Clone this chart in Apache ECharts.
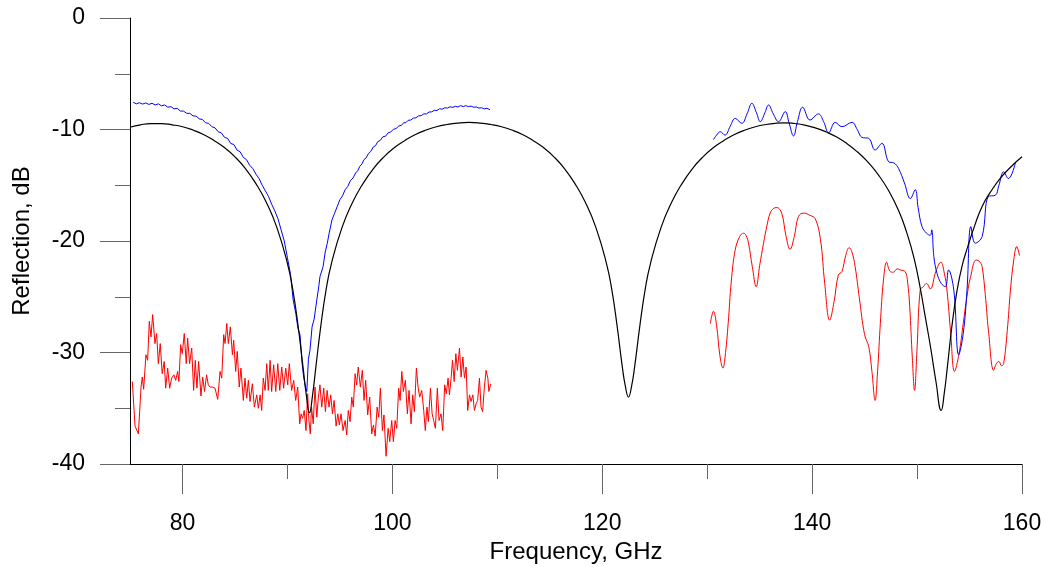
<!DOCTYPE html>
<html>
<head>
<meta charset="utf-8">
<script src="https://cdn.jsdelivr.net/npm/echarts@6/dist/echarts.min.js"></script>
<style>
html,body{margin:0;padding:0;background:#fff;}
#chart{width:1047px;height:567px;}
</style>
</head>
<body>
<div id="chart"></div>
<script>
// Tick values
const xMajorTicks = [80, 100, 120, 140, 160];
const xMinorTicks = [90, 110, 130, 150];

// Calculated reflection (black)
const calcCurve = [[75,-9.8],[76,-9.58],[77,-9.47],[78,-9.47],[79,-9.58],[80,-9.75],[81,-10.05],[82,-10.45],[83,-10.98],[84,-11.62],[85,-12.45],[86,-13.5],[87,-14.85],[88,-16.55],[89,-18.8],[90,-22.0],[90.5,-24.3],[91,-27.5],[91.5,-31.4],[91.8,-33.8],[92.1,-35.4],[92.4,-33.8],[92.7,-31.4],[93.2,-27.5],[93.7,-24.3],[94.2,-22.0],[95.2,-18.8],[96.2,-16.55],[97.2,-14.85],[98.2,-13.5],[99.2,-12.45],[100.2,-11.62],[101.2,-10.98],[102.2,-10.45],[103.2,-10.05],[104.2,-9.75],[105.2,-9.55],[106.2,-9.42],[107.3,-9.36],[108.4,-9.42],[109.4,-9.55],[110.4,-9.75],[111.4,-10.05],[112.4,-10.45],[113.4,-10.98],[114.4,-11.62],[115.4,-12.45],[116.4,-13.5],[117.4,-14.85],[118.4,-16.55],[119.4,-18.8],[120.4,-22.0],[120.9,-24.3],[121.4,-27.5],[121.9,-31.2],[122.2,-33.0],[122.5,-34.0],[122.8,-33.0],[123.1,-31.2],[123.6,-27.5],[124.1,-24.3],[124.6,-22.0],[125.6,-18.8],[126.6,-16.55],[127.6,-14.85],[128.6,-13.5],[129.6,-12.45],[130.6,-11.62],[131.6,-10.98],[132.6,-10.45],[133.6,-10.05],[134.6,-9.75],[135.6,-9.55],[136.5,-9.44],[137.4,-9.4],[138.3,-9.46],[139.3,-9.6],[140.3,-9.85],[141.3,-10.2],[142.3,-10.65],[143.3,-11.25],[144.3,-12.0],[145.3,-12.9],[146.3,-14.05],[147.3,-15.5],[148.3,-17.4],[149.0,-19.2],[149.7,-21.5],[150.3,-24.2],[150.8,-26.9],[151.3,-29.6],[151.8,-32.6],[152.3,-35.2],[152.6,-33.6],[152.9,-31.2],[153.3,-27.8],[153.8,-24.5],[154.3,-22.2],[154.8,-20.6],[155.5,-18.6],[156.2,-16.9],[157.0,-15.6],[158.0,-14.3],[159.0,-13.3],[160.0,-12.45]];

// Measured, band 1 (blue)
const measBand1 = [[75.3,-7.55],[75.6,-7.7],[75.9,-7.6],[76.2,-7.72],[76.5,-7.62],[76.8,-7.75],[77.1,-7.65],[77.4,-7.8],[77.7,-7.7],[78.0,-7.88],[78.3,-7.8],[78.6,-8.0],[78.9,-7.95],[79.2,-8.15],[79.5,-8.1],[79.8,-8.35],[80.1,-8.35],[80.4,-8.55],[80.7,-8.55],[81.0,-8.78],[81.3,-8.8],[81.6,-9.05],[81.9,-9.1],[82.2,-9.4],[82.5,-9.45],[82.8,-9.75],[83.1,-9.85],[83.4,-10.2],[83.7,-10.3],[84.0,-10.7],[84.3,-10.8],[84.6,-11.25],[84.9,-11.35],[85.2,-11.85],[85.5,-12.0],[85.8,-12.5],[86.1,-12.7],[86.4,-13.2],[86.7,-13.5],[87.0,-14.0],[87.3,-14.4],[87.6,-15.0],[87.9,-15.5],[88.2,-16.0],[88.5,-16.7],[88.8,-17.3],[89.1,-18.0],[89.4,-19.0],[89.7,-20.0],[90.0,-21.5],[90.3,-23.0],[90.55,-25.3],[90.8,-26.5],[91.0,-27.8],[91.2,-28.4],[91.4,-31.0],[91.55,-32.2],[91.7,-33.0],[91.85,-33.5],[92.0,-30.6],[92.15,-29.8],[92.35,-27.7],[92.55,-27.0],[92.8,-25.3],[93.0,-24.0],[93.1,-23.2],[93.4,-22.3],[93.6,-21.0],[93.8,-20.2],[94.0,-19.2],[94.25,-18.1],[94.5,-17.5],[94.75,-16.9],[95.0,-16.3],[95.25,-15.95],[95.5,-15.4],[95.75,-15.1],[96.0,-14.6],[96.25,-14.35],[96.5,-13.9],[96.7,-13.7],[96.9,-13.3],[97.1,-13.1],[97.3,-12.7],[97.5,-12.55],[97.7,-12.2],[97.95,-11.95],[98.2,-11.55],[98.4,-11.45],[98.6,-11.1],[98.85,-10.98],[99.1,-10.65],[99.35,-10.6],[99.6,-10.3],[99.85,-10.22],[100.1,-9.98],[100.35,-9.92],[100.6,-9.7],[100.85,-9.62],[101.1,-9.4],[101.3,-9.38],[101.5,-9.18],[101.75,-9.15],[102.0,-8.98],[102.25,-8.95],[102.5,-8.78],[102.75,-8.75],[103.0,-8.6],[103.25,-8.6],[103.5,-8.43],[103.75,-8.42],[104.0,-8.28],[104.25,-8.3],[104.5,-8.14],[104.75,-8.18],[105.0,-8.05],[105.25,-8.08],[105.5,-7.96],[105.75,-8.02],[106.0,-7.92],[106.25,-7.98],[106.5,-7.86],[106.75,-7.95],[107.0,-7.86],[107.25,-7.95],[107.5,-7.9],[107.75,-8.0],[108.0,-7.98],[108.25,-8.08],[108.5,-8.05],[108.75,-8.15],[109.0,-8.1],[109.3,-8.22]];

// Measured, band 2 (blue)
const measBand2 = [[130.6,-10.9],[130.9,-10.5],[131.24,-10.2],[131.7,-10.5],[132.2,-9.7],[132.67,-9.0],[133.3,-9.45],[133.8,-8.6],[134.26,-7.65],[134.7,-8.5],[135.06,-9.3],[135.5,-8.5],[135.85,-7.8],[136.3,-8.6],[136.8,-9.3],[137.44,-8.4],[137.8,-9.4],[138.23,-10.58],[138.6,-9.3],[139.1,-8.0],[139.8,-9.15],[140.6,-8.6],[141.1,-9.3],[141.57,-10.3],[142.2,-9.36],[142.84,-9.75],[143.8,-9.36],[144.3,-10.0],[144.74,-10.7],[145.4,-10.8],[146.0,-11.84],[146.65,-11.24],[147.3,-12.9],[147.8,-13.0],[148.24,-13.5],[148.8,-14.8],[149.36,-16.2],[149.83,-15.4],[150.1,-17.0],[150.47,-18.7],[150.9,-19.3],[151.26,-19.5],[151.4,-19.0],[151.6,-21.4],[151.9,-22.9],[152.3,-23.8],[152.7,-24.1],[153.0,-22.6],[153.5,-24.4],[153.97,-30.2],[154.4,-28.3],[154.76,-24.4],[155.13,-18.7],[155.55,-20.2],[156.2,-19.6],[156.8,-16.0],[157.46,-15.9],[157.8,-15.0],[158.25,-13.8],[158.7,-14.4],[159.37,-13.0]];

// Red, band 1
const redBand1 = [[75.22,-32.6],[75.48,-36.6],[75.64,-36.5],[75.8,-37.3],[76.05,-33.1],[76.17,-32.2],[76.3,-33.3],[76.52,-30.2],[76.68,-30.7],[76.84,-27.2],[77.0,-28.6],[77.16,-26.6],[77.38,-29.2],[77.54,-28.3],[77.7,-31.0],[77.88,-29.2],[78.07,-31.9],[78.26,-30.8],[78.4,-33.2],[78.59,-31.4],[78.78,-33.2],[78.97,-32.3],[79.18,-32.0],[79.35,-32.5],[79.54,-31.7],[79.66,-32.6],[79.83,-29.3],[79.98,-30.1],[80.17,-28.3],[80.36,-31.0],[80.49,-28.7],[80.68,-31.0],[80.88,-29.6],[81.06,-33.4],[81.22,-30.7],[81.38,-33.2],[81.54,-30.8],[81.76,-33.9],[81.93,-32.2],[82.1,-33.5],[82.3,-32.0],[82.46,-32.9],[82.62,-33.1],[82.84,-33.1],[83.1,-33.2],[83.36,-34.2],[83.58,-31.7],[83.74,-32.3],[83.93,-28.4],[84.06,-29.2],[84.22,-27.4],[84.37,-29.2],[84.56,-27.7],[84.76,-30.2],[84.88,-28.9],[85.07,-31.7],[85.22,-29.9],[85.41,-33.1],[85.57,-31.4],[85.8,-34.3],[85.96,-32.3],[86.12,-34.1],[86.28,-32.5],[86.44,-34.4],[86.66,-32.8],[86.85,-34.9],[87.08,-33.8],[87.23,-35.0],[87.4,-33.8],[87.55,-35.2],[87.7,-32.3],[87.87,-33.4],[88.03,-31.0],[88.18,-33.4],[88.35,-30.7],[88.5,-33.5],[88.69,-31.1],[88.89,-33.5],[89.08,-31.0],[89.27,-33.4],[89.46,-31.3],[89.64,-33.2],[89.84,-31.4],[90.03,-32.9],[90.18,-31.0],[90.4,-33.4],[90.6,-32.5],[90.79,-34.3],[90.98,-33.1],[91.17,-36.4],[91.3,-35.5],[91.45,-35.9],[91.6,-35.2],[91.77,-37.0],[91.93,-33.7],[92.05,-36.1],[92.18,-37.3],[92.3,-34.9],[92.46,-36.4],[92.63,-33.1],[92.8,-35.8],[92.95,-34.0],[93.1,-32.9],[93.27,-34.9],[93.46,-33.2],[93.62,-35.3],[93.78,-33.4],[93.97,-34.9],[94.13,-33.8],[94.29,-35.5],[94.45,-34.3],[94.64,-36.6],[94.8,-35.5],[94.95,-36.5],[95.11,-35.5],[95.3,-37.0],[95.5,-36.1],[95.65,-37.4],[95.8,-35.2],[95.97,-36.2],[96.13,-34.0],[96.28,-34.9],[96.45,-31.9],[96.6,-32.9],[96.75,-31.3],[96.95,-33.1],[97.14,-31.6],[97.3,-34.3],[97.46,-32.5],[97.65,-35.6],[97.84,-34.0],[98.03,-37.3],[98.2,-36.5],[98.36,-37.5],[98.55,-34.9],[98.7,-35.8],[98.86,-33.2],[99.05,-37.0],[99.2,-35.6],[99.4,-39.3],[99.6,-36.8],[99.75,-38.0],[99.94,-36.1],[100.1,-38.0],[100.26,-36.1],[100.42,-36.8],[100.6,-33.2],[100.74,-34.3],[100.9,-31.7],[101.05,-33.5],[101.24,-32.5],[101.43,-35.5],[101.59,-33.4],[101.78,-36.4],[101.94,-33.8],[102.1,-35.3],[102.29,-31.4],[102.45,-33.1],[102.6,-34.0],[102.8,-33.4],[102.99,-35.2],[103.14,-37.0],[103.3,-34.9],[103.43,-36.2],[103.63,-33.2],[103.79,-35.5],[103.94,-36.1],[104.1,-36.8],[104.29,-33.2],[104.45,-36.1],[104.64,-35.5],[104.8,-37.0],[104.99,-32.9],[105.14,-33.7],[105.31,-32.3],[105.44,-33.8],[105.6,-32.3],[105.73,-30.7],[105.89,-32.6],[106.05,-30.1],[106.2,-31.6],[106.4,-29.6],[106.55,-32.2],[106.72,-30.4],[106.87,-32.3],[107.03,-31.3],[107.18,-35.2],[107.35,-33.8],[107.5,-34.4],[107.67,-33.8],[107.82,-35.2],[107.98,-34.6],[108.13,-34.3],[108.3,-32.3],[108.45,-34.9],[108.6,-35.3],[108.77,-33.1],[108.93,-31.6],[109.1,-32.3],[109.2,-33.5],[109.38,-32.8]];

// Red, band 2
const redBand2 = [[130.3,-27.4],[130.6,-26.3],[130.9,-27.6],[131.2,-30.2],[131.5,-31.4],[131.75,-30.0],[132.0,-27.4],[132.3,-23.6],[132.67,-20.8],[133.1,-19.6],[133.46,-19.3],[133.7,-19.5],[133.94,-20.2],[134.3,-22.3],[134.67,-24.1],[135.0,-22.2],[135.37,-20.2],[135.7,-18.6],[136.0,-17.5],[136.3,-17.1],[136.64,-17.0],[137.1,-17.5],[137.5,-19.5],[137.9,-20.75],[138.3,-19.6],[138.7,-17.8],[139.18,-17.5],[139.8,-17.7],[140.3,-18.0],[140.8,-19.9],[141.2,-23.8],[141.67,-27.1],[142.1,-25.4],[142.5,-23.05],[142.84,-22.75],[143.2,-21.3],[143.53,-20.6],[143.8,-21.0],[144.1,-22.3],[144.5,-25.1],[145.0,-28.4],[145.4,-29.5],[145.7,-31.7],[146.0,-34.3],[146.25,-31.5],[146.5,-27.4],[146.8,-23.5],[147.1,-21.9],[147.4,-22.7],[147.75,-22.8],[148.1,-22.5],[148.4,-22.6],[148.87,-22.75],[149.1,-23.7],[149.3,-25.9],[149.55,-30.5],[149.76,-33.4],[150.0,-29.6],[150.3,-24.4],[150.6,-24.1],[150.9,-23.8],[151.26,-24.3],[151.8,-22.7],[152.27,-21.9],[152.6,-22.9],[152.85,-24.4],[153.2,-28.2],[153.57,-31.7],[154.0,-30.1],[154.4,-27.4],[154.75,-25.0],[155.1,-23.2],[155.64,-21.7],[156.0,-21.9],[156.2,-22.3],[156.5,-24.8],[156.8,-28.0],[157.3,-31.6],[157.55,-31.0],[157.8,-30.8],[158.05,-31.2],[158.25,-31.0],[158.6,-28.0],[158.9,-24.4],[159.2,-21.8],[159.5,-20.5],[159.76,-21.3]];

const chart = echarts.init(document.getElementById('chart'), null, {renderer: 'canvas'});
const FONT = 'Liberation Sans, Arial, sans-serif';

function lineSeries(data, color, width, smooth) {
  return {
    type: 'line', data: data, showSymbol: false, symbol: 'none',
    smooth: smooth,
    lineStyle: {color: color, width: width}, itemStyle: {color: color},
    animation: false, silent: true
  };
}

chart.setOption({
  animation: false,
  backgroundColor: '#fff',
  grid: {left: 130, right: 25, top: 18, bottom: 103, containLabel: false, outerBoundsMode: 'none'},
  xAxis: [{
    type: 'value', min: 75, max: 160, position: 'bottom',
    axisLine: {show: true, onZero: false, lineStyle: {color: '#000', width: 1}},
    axisTick: {show: true, length: 30, customValues: xMajorTicks, lineStyle: {color: '#666', width: 1}},
    axisLabel: {customValues: xMajorTicks, margin: 48, fontSize: 23, color: '#000', fontFamily: FONT},
    splitLine: {show: false},
    name: 'Frequency, GHz', nameLocation: 'middle', nameGap: 74,
    nameTextStyle: {fontSize: 24, color: '#000', fontFamily: FONT}
  }, {
    type: 'value', min: 75, max: 160, position: 'bottom',
    axisLine: {show: false, onZero: false},
    axisTick: {show: true, length: 15, customValues: xMinorTicks, lineStyle: {color: '#666', width: 1}},
    axisLabel: {show: false},
    splitLine: {show: false}
  }],
  yAxis: {
    type: 'value', min: -40, max: 0, interval: 10,
    axisLine: {show: true, onZero: false, lineStyle: {color: '#000', width: 1}},
    axisTick: {show: true, length: 30, lineStyle: {color: '#666', width: 1}},
    minorTick: {show: true, splitNumber: 2, length: 15, lineStyle: {color: '#666', width: 1}},
    axisLabel: {margin: 45, fontSize: 23, color: '#000', fontFamily: FONT},
    splitLine: {show: false},
    name: 'Reflection, dB', nameLocation: 'middle', nameGap: 96, nameRotate: 90,
    nameTextStyle: {fontSize: 24, color: '#000', fontFamily: FONT}
  },
  series: [
    lineSeries(redBand1, '#ff0000', 1, false),
    lineSeries(redBand2, '#ff0000', 1, 0.4),
    lineSeries(measBand1, '#0000ff', 1, false),
    lineSeries(measBand2, '#0000ff', 1, 0.4),
    lineSeries(calcCurve, '#000000', 1.2, 0.5)
  ]
});
</script>
</body>
</html>
